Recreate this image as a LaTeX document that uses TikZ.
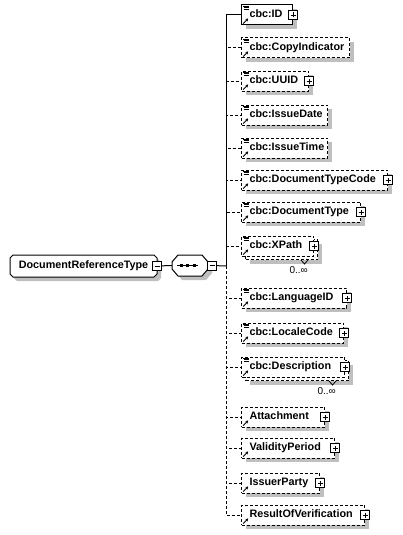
\documentclass[tikz,border=0pt]{standalone}
\usepackage{fontspec}
\setmainfont{Liberation Sans}
\usetikzlibrary{shadows,arrows.meta}
\hyphenpenalty=10000
\exhyphenpenalty=10000
\newcommand{\elemfont}{\fontsize{10.8}{13}\selectfont\bfseries}
\newcommand{\multfont}{\fontsize{10}{12}\selectfont}
% small marks in the top left and bottom left corner of an element box
\newcommand{\arrowmark}[1]{%
  \draw[line width=0.9pt,-{Stealth[length=2.6pt,width=3.2pt]}]
    ([xshift=2.2pt,yshift=2pt]#1.south west) -- ++(5pt,5pt);}
\newcommand{\refmark}[1]{%
  \draw[line width=0.7pt]
    ([xshift=2pt,yshift=-1.6pt]#1.north west) -- ++(6pt,0)
    ([xshift=2.5pt,yshift=-3.3pt]#1.north west) -- ++(5pt,0)
    ([xshift=2.5pt,yshift=-5pt]#1.north west) -- ++(5pt,0);
  \arrowmark{#1}}
\tikzset{
  shade/.style={drop shadow={shadow xshift=4pt,shadow yshift=-4pt,fill=black!25,opacity=1}},
  outline/.style={draw,fill=white,line width=1pt,shade},
  elem/.style={draw,fill=white,line width=1pt,minimum height=20pt,inner xsep=8pt,
    inner ysep=0pt,text height=8pt,text depth=2.5pt,anchor=west,font=\elemfont},
  reqelem/.style={elem,shade},
  optelem/.style={elem,shade,dash pattern=on 3pt off 2pt},
  optfront/.style={elem,dash pattern=on 3pt off 2pt},
  expand/.style={draw,fill=white,line width=0.8pt,minimum size=9pt,inner sep=0pt,
    path picture={\draw[line width=0.8pt]
      ([xshift=2pt]path picture bounding box.west) -- ([xshift=-2pt]path picture bounding box.east)
      ([yshift=2pt]path picture bounding box.south) -- ([yshift=-2pt]path picture bounding box.north);}},
  collapse/.style={draw,fill=white,line width=0.8pt,minimum size=9pt,inner sep=0pt,
    path picture={\draw[line width=0.8pt]
      ([xshift=2pt]path picture bounding box.west) -- ([xshift=-2pt]path picture bounding box.east);}},
  link/.style={line width=1pt},
  optlink/.style={line width=1pt,dash pattern=on 3pt off 2pt},
  mult/.style={font=\multfont,anchor=east,inner sep=0pt}
}
\begin{document}
\begin{tikzpicture}[x=1pt,y=-1pt]
\useasboundingbox (0,0) rectangle (402,535);
% complex type and its sequence
\draw[outline] (13,255) -- (154,255) -- (157,258) -- (157,274) -- (154,277)
  -- (13,277) -- (10,274) -- (10,258) -- cycle;
\node[minimum width=147pt,minimum height=22pt,inner sep=0pt,font=\elemfont] (root) at (83.5,266) {DocumentReferenceType};
\node[collapse] (rootminus) at (root.east) {};
\draw[outline] (178,255) -- (202,255) -- (208,262) -- (208,269) -- (202,276)
  -- (178,276) -- (172,269) -- (172,262) -- cycle;
\node[minimum width=36pt,minimum height=21pt,inner sep=0pt] (seq) at (190,265.5) {};
\draw[line width=1pt] ([xshift=-13pt]seq.center) -- ([xshift=8pt]seq.center);
\fill ([xshift=-10.5pt,yshift=-1.5pt]seq.center) rectangle ++(3pt,3pt);
\fill ([xshift=-4pt,yshift=-1.5pt]seq.center) rectangle ++(3pt,3pt);
\fill ([xshift=2.5pt,yshift=-1.5pt]seq.center) rectangle ++(3pt,3pt);
\node[collapse,anchor=west] (seqminus) at ([xshift=-1pt]seq.east) {};
\coordinate (bus) at (226,266);
\draw[link] (rootminus) -- (seq.west);
\draw[link] (seqminus) -- (bus);

% children of the sequence
\node[reqelem,text width=35pt] (id) at (241,15) {cbc:ID};
\node[optelem,text width=92pt] (copy) at (241,48) {cbc:CopyIndicator};
\node[optelem,text width=51pt] (uuid) at (241,81) {cbc:UUID};
\node[optelem,text width=70pt] (idate) at (241,115) {cbc:IssueDate};
\node[optelem,text width=70pt] (itime) at (241,148) {cbc:IssueTime};
\node[optelem,text width=130pt] (dtc) at (241,180) {cbc:DocumentTypeCode};
\node[optelem,text width=103pt] (dtype) at (241,212) {cbc:DocumentType};
\node[optelem,minimum width=72pt] (xpathback) at (245,249.5) {};
\node[optfront,text width=56pt] (xpath) at (241,246) {cbc:XPath};
\node[optelem,text width=89pt] (lang) at (241,298) {cbc:LanguageID};
\node[optelem,text width=86pt] (locale) at (241,333) {cbc:LocaleCode};
\node[optelem,minimum width=103pt] (descrback) at (245,370.5) {};
\node[optfront,text width=87pt] (descr) at (241,367) {cbc:Description};
\node[optelem,text width=67pt] (attach) at (241,417) {Attachment};
\node[optelem,text width=77pt] (valid) at (241,448) {ValidityPeriod};
\node[optelem,text width=62pt] (issuer) at (241,483) {IssuerParty};
\node[optelem,text width=107pt] (result) at (241,515) {ResultOfVerification};

% connectors
\draw[link] (bus) |- (id.west);
\draw[optlink] (bus) |- (copy.west);
\draw[optlink] (bus) |- (uuid.west);
\draw[optlink] (bus) |- (idate.west);
\draw[optlink] (bus) |- (itime.west);
\draw[optlink] (bus) |- (dtc.west);
\draw[optlink] (bus) |- (dtype.west);
\draw[optlink] (bus) |- (xpath.west);
\draw[optlink] (bus) |- (lang.west);
\draw[optlink] (bus) |- (locale.west);
\draw[optlink] (bus) |- (descr.west);
\draw[optlink] (bus) |- (attach.west);
\draw[optlink] (bus) |- (valid.west);
\draw[optlink] (bus) |- (issuer.west);
\draw[optlink] (bus) |- (result.west);

% expand boxes
\node[expand] (idplus) at (id.east) {};
\node[expand] (uuidplus) at (uuid.east) {};
\node[expand] (dtcplus) at (dtc.east) {};
\node[expand] (dtypeplus) at (dtype.east) {};
\node[expand] (xpathplus) at (xpath.east) {};
\node[expand] (langplus) at (lang.east) {};
\node[expand] (localeplus) at (locale.east) {};
\node[expand] (descrplus) at (descr.east) {};
\node[expand] (attachplus) at (attach.east) {};
\node[expand] (validplus) at (valid.east) {};
\node[expand] (issuerplus) at (issuer.east) {};
\node[expand] (resultplus) at (result.east) {};

% corner marks
\refmark{id}
\refmark{copy}
\refmark{uuid}
\refmark{idate}
\refmark{itime}
\refmark{dtc}
\refmark{dtype}
\refmark{xpath}
\refmark{lang}
\refmark{locale}
\refmark{descr}
\arrowmark{attach}
\arrowmark{valid}
\arrowmark{issuer}
\arrowmark{result}

% multiplicity
\draw[line width=0.8pt] ([xshift=-17pt]xpathback.south east) -- ++(3.5pt,-4pt) -- ++(3.5pt,4pt);
\node[mult] (xpathmult) at ([xshift=-10pt,yshift=-10pt]xpathback.south east) {0..∞};
\draw[line width=0.8pt] ([xshift=-20pt]descrback.south east) -- ++(3.5pt,-4pt) -- ++(3.5pt,4pt);
\node[mult] (descrmult) at ([xshift=-13pt,yshift=-10pt]descrback.south east) {0..∞};
\end{tikzpicture}
\end{document}
